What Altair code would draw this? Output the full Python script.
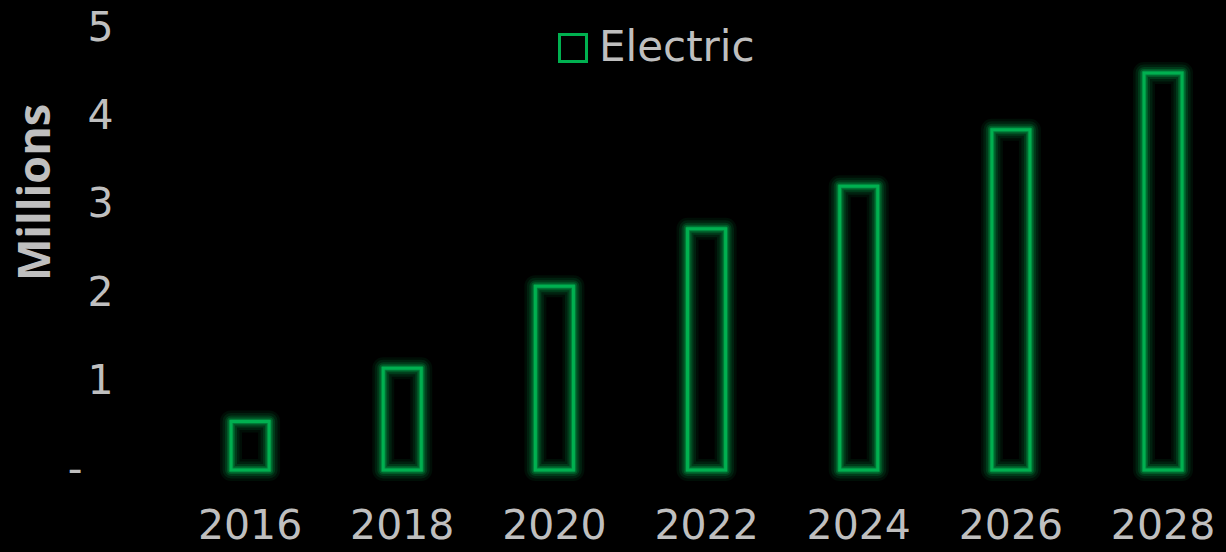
import altair as alt
import pandas as pd

years = ["2016", "2018", "2020", "2022", "2024", "2026", "2028"]
values = [0.55, 1.15, 2.08, 2.73, 3.21, 3.85, 4.49]
series = ["Electric"] * len(years)
y_ticks = [0, 1, 2, 3, 4, 5]

df = pd.DataFrame({"year": years, "value": values, "series": series})

GREEN = "#00b050"
GRAY = "#bfbfbf"
FONT = "DejaVu Sans"
TFONT = "Open Sans"

x_enc = alt.X(
    "year:O",
    title=None,
    scale=alt.Scale(paddingInner=0.75, paddingOuter=0.4765, align=0.697),
    axis=alt.Axis(labelAngle=0, labelFontSize=41, labelColor=GRAY, labelFont=FONT,
                  ticks=False, domain=False, labelPadding=36),
)
y_enc = alt.Y(
    "value:Q",
    title="Millions",
    scale=alt.Scale(domain=[0, 5], nice=False, zero=True),
    axis=alt.Axis(values=y_ticks, grid=False, ticks=False, domain=False,
                  labelFontSize=41, labelColor=GRAY, labelFont=FONT,
                  labelPadding={"condition": {"test": "datum.value == 0", "value": 48}, "value": 17},
                  labelExpr="datum.value == 0 ? '-' : datum.label",
                  titleFontSize=45, titleFontWeight="bold", titleColor=GRAY, titleFont=TFONT,
                  titleAngle=-90, titleX=-95, titleY=164, titleAlign="center",
                  titleBaseline="middle"),
)

base = alt.Chart(df)
glows = []
for sw, op in [(22, 0.08), (17, 0.12), (12, 0.18), (8, 0.28), (5, 0.4)]:
    glows.append(
        base.mark_bar(filled=False, stroke=GREEN, strokeWidth=sw, strokeOpacity=op,
                      strokeJoin="round").encode(x=x_enc, y=y_enc)
    )
main = base.mark_bar(filled=False, strokeWidth=3).encode(
    x=x_enc,
    y=y_enc,
    color=alt.Color("series:N", scale=alt.Scale(range=[GREEN]),
                    legend=alt.Legend(title=None, orient="none", legendX=422, legendY=-1,
                                      symbolType="square", symbolSize=729,
                                      symbolStrokeWidth=3, symbolFillColor="transparent",
                                      labelFontSize=42, labelColor=GRAY, labelFont=FONT,
                                      labelOffset=5, padding=0)),
)

chart = alt.layer(*glows, main).properties(
    width=1096, height=442,
    background="black",
    padding={"left": 130, "top": 28, "right": 0, "bottom": 82},
    autosize=alt.AutoSizeParams(type="none"),
).configure_view(stroke=None)

chart.save("out.html", embed_options={"renderer": "svg", "actions": False})
